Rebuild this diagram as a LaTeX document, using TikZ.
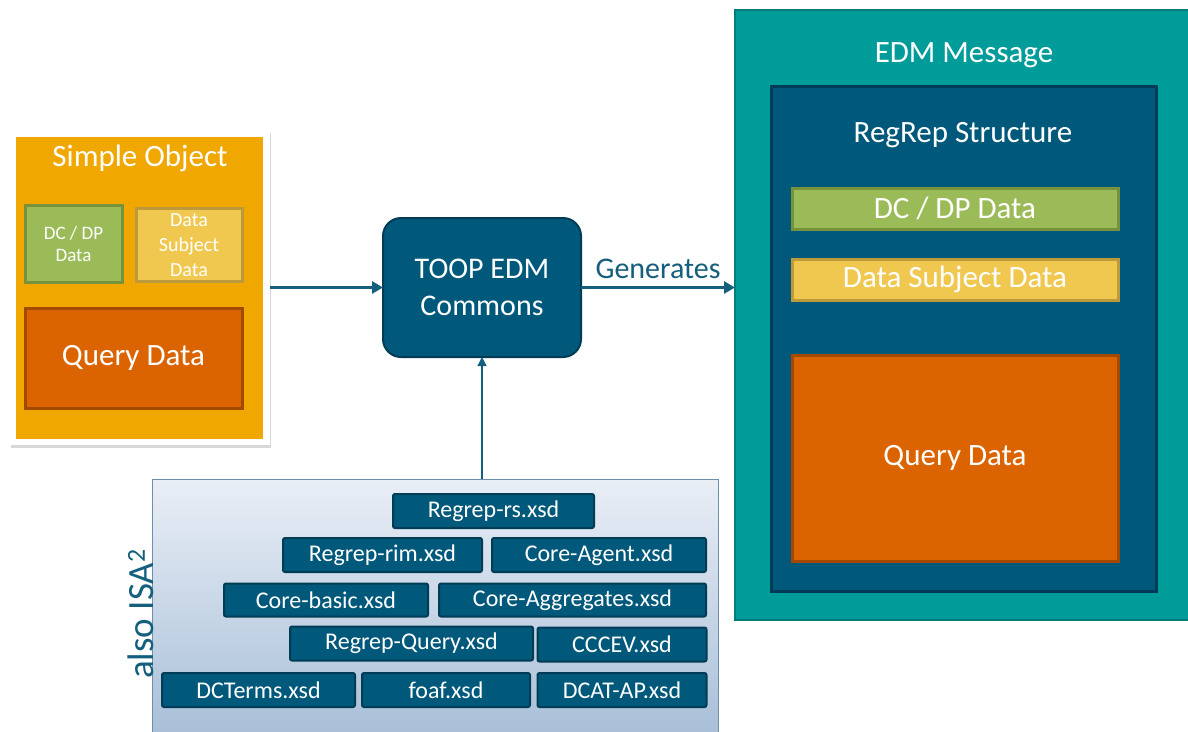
\documentclass[tikz,border=0pt]{standalone}
\usepackage{fontspec}
\setmainfont{Carlito}
\usetikzlibrary{arrows.meta,shadows}
\definecolor{gold}{HTML}{F0A800}
\definecolor{leaf}{HTML}{9BBB59}
\definecolor{leafb}{HTML}{76923C}
\definecolor{sand}{HTML}{F0C850}
\definecolor{sandb}{HTML}{BC9A3C}
\definecolor{rust}{HTML}{DB6400}
\definecolor{rustb}{HTML}{A44A00}
\definecolor{navy}{HTML}{00587A}
\definecolor{navyb}{HTML}{003C55}
\definecolor{teal}{HTML}{009C9A}
\definecolor{tealb}{HTML}{007C7A}
\definecolor{ink}{HTML}{145E7E}
\definecolor{isatop}{HTML}{E9EEF6}
\definecolor{isabot}{HTML}{A6BED7}
\definecolor{isab}{HTML}{6F8EAC}
\newcommand{\fs}[1]{\fontsize{#1}{#1}\selectfont}
\begin{document}
\begin{tikzpicture}[x=1pt,y=-1pt,
  box/.style={rectangle,inner sep=0pt,outer sep=0pt,text=white,align=center},
  greenbox/.style={box,fill=leaf,draw=leafb,line width=3pt},
  yellowbox/.style={box,fill=sand,draw=sandb,line width=3pt},
  orangebox/.style={box,fill=rust,draw=rustb,line width=3pt},
  xsd/.style={box,fill=navy,draw=navyb,line width=2pt,rounded corners=2pt,font=\fs{24}},
  title/.style={text=white,inner sep=0pt},
  arr/.style={draw=ink,line width=3pt,-{Triangle[length=11pt,width=12pt]}},
  thinarr/.style={draw=ink,line width=1.3pt,-{Triangle[length=9pt,width=9pt]}}]
\useasboundingbox (0,0) rectangle (1188,731);
\clip (0,0) rectangle (1188,731);
\fill[white] (0,0) rectangle (1188,731);
% Simple Object
\node[box,fill=white,minimum width=260pt,minimum height=315pt,
  drop shadow={shadow xshift=1pt,shadow yshift=-3pt,opacity=0.3}] (soframe) at (140,287.5) {};
\node[box,fill=gold,minimum width=247pt,minimum height=302pt] (so) at (139.5,288) {};
\node[title,font=\fs{31}] (sotitle) at (140,158) {Simple Object};
\node[greenbox,minimum width=97pt,minimum height=77pt,font=\fs{19}] (sodc) at (73.5,243.5) {DC / DP\\[3pt]Data};
\node[yellowbox,minimum width=106pt,minimum height=73pt,font=\fs{20}] (sods) at (189,245) {Data\\[5pt]Subject\\[5pt]Data};
\node[orangebox,minimum width=217pt,minimum height=100pt,font=\fs{31}] (soq) at (133.5,358) {Query Data};
% TOOP
\node[box,fill=navy,draw=navyb,line width=2pt,rounded corners=18pt,minimum width=198pt,minimum height=139pt,font=\fs{30}] (toop) at (482,287.5) {TOOP EDM\\[7pt]Commons};
% EDM Message
\node[box,fill=teal,draw=tealb,line width=2pt,minimum width=460pt,minimum height=610pt] (edm) at (965,315) {};
\node[title,font=\fs{31}] (edmtitle) at (964,55) {EDM Message};
\node[box,fill=navy,draw=navyb,line width=3pt,minimum width=385pt,minimum height=505pt] (rr) at (963.5,338.5) {};
\node[title,font=\fs{31}] (rrtitle) at (963,135) {RegRep Structure};
\node[greenbox,minimum width=326pt,minimum height=41pt,font=\fs{31}] (rrdc) at (955,208.5) {DC / DP Data};
\node[yellowbox,minimum width=326pt,minimum height=41pt,font=\fs{31}] (rrds) at (955,279.5) {Data Subject Data};
\node[orangebox,minimum width=326pt,minimum height=206pt,font=\fs{31}] (rrq) at (955,458) {Query Data};
% ISA box
\node[box,top color=isatop,bottom color=isabot,draw=isab,line width=1pt,minimum width=566pt,minimum height=262pt] (isa) at (435,610) {};
\node[text=ink,inner sep=0pt,rotate=90,font=\fs{37}] (isalabel) at (141,614) {also ISA\textsuperscript{2}};
\node[xsd,minimum width=201pt,minimum height=34pt] (x1) at (493.5,511) {Regrep-rs.xsd};
\node[xsd,minimum width=199pt,minimum height=34pt] (x2) at (382.5,555) {Regrep-rim.xsd};
\node[xsd,minimum width=214pt,minimum height=34pt] (x3) at (599,555) {Core-Agent.xsd};
\node[xsd,minimum width=204pt,minimum height=33pt] (x4) at (326,600) {Core-basic.xsd};
\node[xsd,minimum width=267pt,minimum height=33pt] (x5) at (572.5,600) {Core-Aggregates.xsd};
\node[xsd,minimum width=243pt,minimum height=34pt] (x6) at (411.5,643.5) {Regrep-Query.xsd};
\node[xsd,minimum width=169pt,minimum height=34pt] (x7) at (622,644.5) {CCCEV.xsd};
\node[xsd,minimum width=193pt,minimum height=34pt] (x8) at (258.5,690) {DCTerms.xsd};
\node[xsd,minimum width=168pt,minimum height=34pt] (x9) at (446,690) {foaf.xsd};
\node[xsd,minimum width=169pt,minimum height=34pt] (x10) at (622,690) {DCAT-AP.xsd};
% connectors
\draw[arr] (soframe.east) -- (toop.west);
\draw[arr] (toop.east) -- node[above=7pt,text=ink,font=\fs{30},inner sep=0pt] (gen) {Generates} (toop.east -| edm.west);
\draw[thinarr] (isa.north -| toop.south) -- (toop.south);
\end{tikzpicture}
\end{document}
